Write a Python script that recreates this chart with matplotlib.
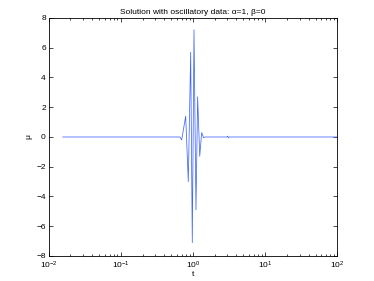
import matplotlib
matplotlib.use("Agg")
import matplotlib.pyplot as plt
from matplotlib.ticker import LogLocator, FixedLocator

# Data (extremes of the oscillatory burst)
t_vals = [0.0157, 0.66, 0.697, 0.792, 0.861, 0.929, 0.978, 1.033, 1.10, 1.16,
          1.24, 1.32, 1.40, 1.47, 2.95, 3.02, 3.08, 3.14, 100.0]
mu_vals = [0.0, 0.0, -0.2, 1.4, -3.0, 5.7, -7.1, 7.2, -4.9, 2.7,
           -1.3, 0.3, -0.05, 0.0, 0.0, 0.06, -0.06, 0.0, 0.0]
y_ticks = [-8, -6, -4, -2, 0, 2, 4, 6, 8]
title = "Solution with oscillatory data: \u03b1=1, \u03b2=0"

plt.rcParams['font.family'] = ['Liberation Sans', 'DejaVu Sans']

fig = plt.figure(figsize=(3.74, 2.81), dpi=100)
ax = fig.add_axes([0.13, 0.089, 0.772, 0.847])
ax.plot(t_vals, mu_vals, color=(0.25, 0.4, 1.0), linewidth=0.55)
ax.set_xscale('log')
ax.set_xlim(1e-2, 1e2)
ax.set_ylim(-8, 8)
ax.yaxis.set_major_locator(FixedLocator(y_ticks))
ax.xaxis.set_major_locator(LogLocator(base=10, numticks=10))
ax.xaxis.set_minor_locator(LogLocator(base=10, subs=range(2, 10), numticks=100))
ax.tick_params(which='both', direction='in', top=True, right=True,
               labelsize=6, width=0.5)
ax.tick_params(axis='x', pad=3)
ax.tick_params(axis='y', pad=2)
ax.tick_params(which='major', length=3)
ax.tick_params(which='minor', length=1.5)
for s in ax.spines.values():
    s.set_linewidth(0.6)
ax.set_title(title, fontsize=6, pad=3)
ax.set_xlabel("t", fontsize=6, labelpad=0)
ax.set_ylabel("\u03bc", fontsize=6, labelpad=3)
fig.savefig("out.png", dpi=100)
